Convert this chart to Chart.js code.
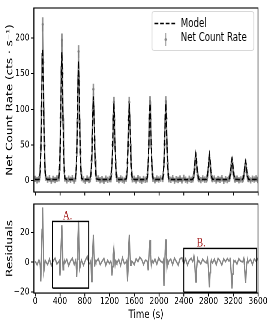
<!DOCTYPE html>
<html><head><meta charset="utf-8">
<script src="https://cdn.jsdelivr.net/npm/chart.js@4"></script>
<style>
html,body{margin:0;padding:0;background:#fff;overflow:hidden;width:273px;height:327px}
#wrap{position:absolute;left:0;top:0;width:364px;height:327px;transform:scaleX(0.75);transform-origin:0 0}
#c1{position:absolute;left:0;top:0;width:364px;height:200px}
#c2{position:absolute;left:0;top:196px;width:364px;height:131px}
#legend{position:absolute;left:202px;top:10.5px;width:135px;height:38px;border:1px solid #d2d2d2;border-radius:3px;background:rgba(255,255,255,0.85);font-family:'DejaVu Sans';font-size:11.5px;color:#000}
#legend .t{position:absolute;left:38px;line-height:14px;white-space:nowrap}
#legend svg{position:absolute;left:0;top:0}
</style></head>
<body>
<div id="wrap">
<canvas id="c1" width="364" height="200"></canvas>
<canvas id="c2" width="364" height="131"></canvas>
<div id="legend">
<svg width="135" height="38"><line x1="3" y1="11.5" x2="31" y2="11.5" stroke="#000" stroke-width="1.5" stroke-dasharray="5 2.5"/><line x1="18" y1="21" x2="18" y2="34" stroke="#8a8a8a" stroke-width="1.2"/><circle cx="18" cy="27.5" r="1.6" fill="#8a8a8a"/></svg>
<div class="t" style="top:4.5px">Model</div>
<div class="t" style="top:18px">Net Count Rate</div>
</div>
</div>
<script>
// ---- data ----
const timeS = [0,30,60,
70,80,90,100,110,120,130,140,150,160,170,
200,230,260,290,320,350,
380,390,400,410,420,430,440,450,460,470,480,
510,540,570,600,630,
650,660,670,680,690,700,710,720,730,740,750,
780,810,840,870,
890,900,910,920,930,940,950,960,970,980,990,
1020,1050,1080,1110,1140,1170,1200,
1220,1230,1240,1250,1260,1270,1280,1290,1300,1310,1320,
1350,1380,1410,1440,
1470,1480,1490,1500,1510,1520,1530,1540,1550,1560,1570,
1600,1630,1660,1690,1720,1750,1780,
1805,1815,1825,1835,1845,1855,1865,1875,1885,1895,1905,
1935,1965,1995,2025,
2060,2070,2080,2090,2100,2110,2120,2130,2140,2150,2160,
2190,2220,2250,2280,2310,2340,2370,2400,2430,2460,2490,2520,
2545,2555,2565,2575,2585,2595,2605,2615,2625,2635,2645,
2675,2705,2735,
2765,2775,2785,2795,2805,2815,2825,2835,2845,2855,2865,
2895,2925,2955,2985,3015,3045,3075,3105,
3130,3140,3150,3160,3170,3180,3190,3200,3210,3220,3230,
3260,3290,3320,
3350,3360,3370,3380,3390,3400,3410,3420,3430,3440,3450,
3480,3510,3540,3570,3600];

const netRate = [2.4,0.6,1.9,
4.8,17,46,98,170,219,166,95,49,15,4.2,
1.2,3.1,-0.4,2.2,0.8,2.9,
3.5,15,42,88,152,197,150,87,44,14,3.1,
0.3,2.5,1.1,3.2,-0.2,
2.9,14,39,81,140,181,139,80,40,13,3.6,
1.6,-0.6,2.8,0.9,
2.2,10,28,58,99,128,98,57,29,9.5,2.5,
3.0,0.5,1.8,-0.3,2.6,1.0,2.2,
2.0,9.2,24,50,86,110,85,49,25,8.5,2.4,
0.7,2.9,1.3,-0.1,
2.6,8.8,25,49,85,110,86,50,24,8.9,1.8,
2.4,0.2,3.1,1.5,-0.5,2.0,1.1,
1.9,9.0,25,50,87,111,86,50,25,9.1,2.7,
0.4,2.7,1.4,3.0,
2.3,8.7,24,51,86,111,87,49,24,8.6,2.0,
1.1,3.2,-0.3,2.0,0.9,2.8,0.2,3.5,1.3,-0.2,2.4,1.0,
1.8,3.9,8.5,16,27,34,26,15.5,8.2,3.6,2.1,
0.6,2.9,1.2,
1.5,3.5,8.0,15,25,32,24,14.5,7.5,3.2,1.9,
2.7,0.1,2.2,1.0,3.1,-0.4,1.9,0.8,
2.4,3.4,7.0,13,22,28,21,12.5,6.8,3.1,1.4,
2.6,0.5,1.7,
1.2,3.0,6.1,11.5,19,24,18,11,6.0,2.9,2.2,
0.3,2.5,1.4,3.0,0.9];

const rateErr = [3.9,4.2,4.0,
4.2,4.8,5.6,7.0,8.4,9.5,8.3,6.9,5.7,4.7,4.1,
4.0,4.2,3.8,4.1,3.9,4.2,
4.1,4.7,5.4,6.7,7.9,8.8,7.8,6.6,5.4,4.6,4.1,
3.9,4.1,4.0,4.2,3.8,
4.1,4.6,5.3,6.4,7.6,8.4,7.5,6.4,5.3,4.6,4.1,
4.0,3.8,4.1,4.0,
4.0,4.5,5.0,5.8,6.7,7.3,6.7,5.8,5.0,4.4,4.0,
4.1,3.9,4.0,3.8,4.1,4.0,4.1,
4.0,4.4,4.9,5.6,6.4,6.9,6.3,5.5,4.9,4.4,4.0,
3.9,4.1,4.0,3.9,
4.0,4.4,4.9,5.5,6.3,6.9,6.4,5.6,4.9,4.4,4.0,
4.1,3.9,4.1,4.0,3.8,4.1,4.0,
4.0,4.4,4.9,5.6,6.4,7.0,6.3,5.6,4.9,4.4,4.0,
3.9,4.1,4.0,4.1,
4.0,4.4,4.9,5.6,6.4,7.0,6.4,5.5,4.9,4.4,4.0,
4.0,4.1,3.8,4.0,4.0,4.1,3.9,4.2,4.0,3.8,4.1,4.0,
4.0,4.1,4.3,4.6,5.0,5.3,5.0,4.6,4.3,4.1,4.0,
3.9,4.1,4.0,
4.0,4.1,4.3,4.5,4.9,5.2,4.9,4.5,4.3,4.1,4.0,
4.1,3.9,4.0,4.0,4.1,3.9,4.0,4.0,
4.0,4.1,4.3,4.5,4.8,5.0,4.8,4.5,4.2,4.1,4.0,
4.1,3.9,4.0,
4.0,4.1,4.2,4.4,4.7,4.9,4.7,4.4,4.2,4.1,4.0,
3.9,4.1,4.0,4.1,4.0];

const modelRate = [1.5,1.5,1.5,
3,12,36,78,142,185,140,77,37,12,3,
1.5,1.5,1.5,1.5,1.5,1.5,
3,12,35,76,138,180,137,75,35,12,3,
1.5,1.5,1.5,1.5,1.5,
3,11,33,71,129,168,128,70,33,11,3,
1.5,1.5,1.5,1.5,
2.5,8.5,24,51,91,118,90,50,24,8.5,2.5,
1.5,1.5,1.5,1.5,1.5,1.5,1.5,
2.5,8,22,47,83,108,83,47,22,8,2.5,
1.5,1.5,1.5,1.5,
2.5,8,22,47,83,108,83,47,22,8,2.5,
1.5,1.5,1.5,1.5,1.5,1.5,1.5,
2.5,8,22,47,83,108,83,47,22,8,2.5,
1.5,1.5,1.5,1.5,
2.5,8,22,47,83,108,83,47,22,8,2.5,
1.5,1.5,1.5,1.5,1.5,1.5,1.5,1.5,1.5,1.5,1.5,1.5,
1.8,4,9.5,18,30,38,30,18,9.5,4,1.8,
1.5,1.5,1.5,
1.8,3.8,9,17,28,36,28,17,9,3.8,1.8,
1.5,1.5,1.5,1.5,1.5,1.5,1.5,1.5,
1.7,3.5,8,15,24.5,31,24.5,15,8,3.5,1.7,
1.5,1.5,1.5,
1.7,3.2,7,13,21.5,27,21.5,13,7,3.2,1.7,
1.5,1.5,1.5,1.5,1.5];

const residual = [0.6,-1.8,1.4,
0.5,-2,-13,4,22,37,12,-6,-3,1.2,0.4,
-1.6,2.1,-2.2,0.9,2.7,-1.2,
0.3,1,-9,3,14,25,8,-5,-2,1,-0.5,
1.9,-2.3,0.8,2.6,-1.5,
1,-1,-10,2,16,28,10,-4,-2,0.5,1,
-2.0,1.3,3.8,-1.1,
-0.5,1,-13,-4,9,18.5,6,-3,1,0,0.8,
2.2,-1.7,0.6,2.5,-2.1,1.2,-0.9,
0.6,-1,-9,-3,5,9,3,-2,1,0.5,-0.4,
1.7,-2.2,2.9,-1.0,
0.2,1.2,-13,-5,10,18.5,7,-2,-1,0.6,0.3,
-1.6,2.3,0.4,3.3,1.8,-1.5,1.4,
0.9,-0.8,-5.5,2,9,15,5,-2,0.5,1,-0.6,
2.0,-1.4,2.8,0.7,
-0.3,1,-16,-6,8,15.5,4,-3,0.5,-0.8,0.7,
2.1,-1.6,2.7,0.5,-2.0,2.3,3.0,-1.1,2.2,-1.9,1.3,2.6,
0.5,1.5,4,1,-7,-13.3,-6,-1,2,0.4,0.9,
-1.2,2.0,0.4,
-0.5,1,2.5,-2,-9,-17,-7,-1,1.5,0.3,-0.4,
2.0,-1.6,2.5,0.9,-1.9,2.2,0.4,2.4,
0.8,1.2,3,-3,-10,-17.8,-8,-2,1,0.5,1,
-1.3,2.3,0.7,
0.2,1,2.5,-2,-8,-14,-5,0,1.5,-0.3,0.6,
1.8,-1.5,2.2,0.6,2.7];

const timeTicks = [0,400,800,1200,1600,2000,2400,2800,3200,3600];
const rateTicks = [0,50,100,150,200];
const residTicks = [-20,0,20];

// highlighted regions (time range, residual range) and their labels
const boxA = {t:[280,865], r:[-17.5,27.5], label:'A.', labelAt:[520,31]};
const boxB = {t:[2400,3580], r:[-20.3,9.3], label:'B.', labelAt:[2680,13]};

// ---- drawing ----
Chart.defaults.font.family = "'DejaVu Sans'";
Chart.defaults.color = '#000';
const GREY = 'rgba(125,125,125,0.9)';

const frame = {id:'frame', afterDatasetsDraw(chart){
  const {ctx, chartArea:a} = chart;
  ctx.save(); ctx.strokeStyle='#000'; ctx.lineWidth=1.1;
  ctx.strokeRect(a.left, a.top, a.right-a.left, a.bottom-a.top);
  ctx.restore();
}};
const boxText = {id:'boxText', afterDatasetsDraw(chart){
  const {ctx, scales:{x,y}} = chart;
  ctx.save();
  ctx.font = "13px 'Liberation Serif'";
  ctx.fillStyle = '#a31d1d'; ctx.textAlign='center'; ctx.textBaseline='middle';
  [boxA, boxB].forEach(b => ctx.fillText(b.label, x.getPixelForValue(b.labelAt[0]), y.getPixelForValue(b.labelAt[1])));
  ctx.restore();
}};

function setTicks(list){ return s => { s.ticks = list.map(v => ({value:v})); }; }
function fmtMinus(v){ return v < 0 ? '\u2212' + Math.abs(v) : String(v); }

function xScale(showLabels){
  return {
    type:'linear', min:-20, max:3600, offset:false,
    afterBuildTicks: setTicks(timeTicks),
    ticks:{display:showLabels, font:{size:10, lineHeight:1}, padding:0, color:'#000', maxRotation:0, autoSkip:false, callback: fmtMinus},
    grid:{drawOnChartArea:false, drawTicks:true, tickLength:3.5, color:'#000', offset:false, lineWidth:1.2},
    border:{display:true, color:'#000', width:1.1},
    title: showLabels ? {display:true, text:'Time (s)', font:{size:11.5}, color:'#000', padding:{top:0,bottom:5}} : {display:false},
    afterFit: s => { s.height = showLabels ? 34 : 4; }
  };
}
function yScale(min, max, ticks, title){
  return {
    type:'linear', min, max,
    afterBuildTicks: setTicks(ticks),
    ticks:{font:{size:10}, padding:2, color:'#000', callback: fmtMinus},
    grid:{drawOnChartArea:false, drawTicks:true, tickLength:4, color:'#000'},
    border:{display:true, color:'#000', width:1.3},
    title:{display:true, text:title, font:{size:12}, color:'#000', padding:{top:6,bottom:0}},
    afterFit: s => { s.width = 45.33; }
  };
}

const common = {responsive:false, animation:false, devicePixelRatio:2, events:[],
  plugins:{legend:{display:false}, tooltip:{enabled:false}}};

new Chart(document.getElementById('c1'), {
  data:{datasets:[
    {type:'bar', data: timeS.map((t,i)=>({x:t, y:[netRate[i]-rateErr[i], netRate[i]+rateErr[i]]})),
     backgroundColor:'rgba(125,125,125,0.8)', barThickness:1.6, grouped:false, order:3},
    {type:'line', data: timeS.map((t,i)=>({x:t, y:netRate[i]})),
     borderColor:GREY, borderWidth:1.8, pointRadius:1.5, pointBackgroundColor:GREY, pointBorderWidth:0, tension:0, order:2},
    {type:'line', data: timeS.map((t,i)=>({x:t, y:modelRate[i]})),
     borderColor:'#000', borderWidth:1.5, borderDash:[6,2.6], pointRadius:0, tension:0, order:1}
  ]},
  options:{...common, layout:{padding:{top:5,right:20,left:0,bottom:0}},
    scales:{x:xScale(false), y:yScale(-16, 242, rateTicks, 'Net Count Rate (cts \u00b7 s\u207b\u00b9)')}},
  plugins:[frame]
});

function boxPath(b){ return [{x:b.t[0],y:b.r[0]},{x:b.t[1],y:b.r[0]},{x:b.t[1],y:b.r[1]},{x:b.t[0],y:b.r[1]},{x:b.t[0],y:b.r[0]}]; }

new Chart(document.getElementById('c2'), {
  type:'line',
  data:{datasets:[
    {data: timeS.map((t,i)=>({x:t, y:residual[i]})), borderColor:'rgba(128,128,128,0.95)', borderWidth:1.7, pointRadius:0, tension:0, order:2},
    {data: boxPath(boxA), borderColor:'#000', borderWidth:1.4, pointRadius:0, tension:0, clip:false, order:1},
    {data: boxPath(boxB), borderColor:'#000', borderWidth:1.4, pointRadius:0, tension:0, clip:false, order:1}
  ]},
  options:{...common, layout:{padding:{top:4.5,right:20,left:0,bottom:0}},
    scales:{x:xScale(true), y:yScale(-20.8, 39.3, residTicks, 'Residuals')}},
  plugins:[frame, boxText]
});
</script>
</body></html>
